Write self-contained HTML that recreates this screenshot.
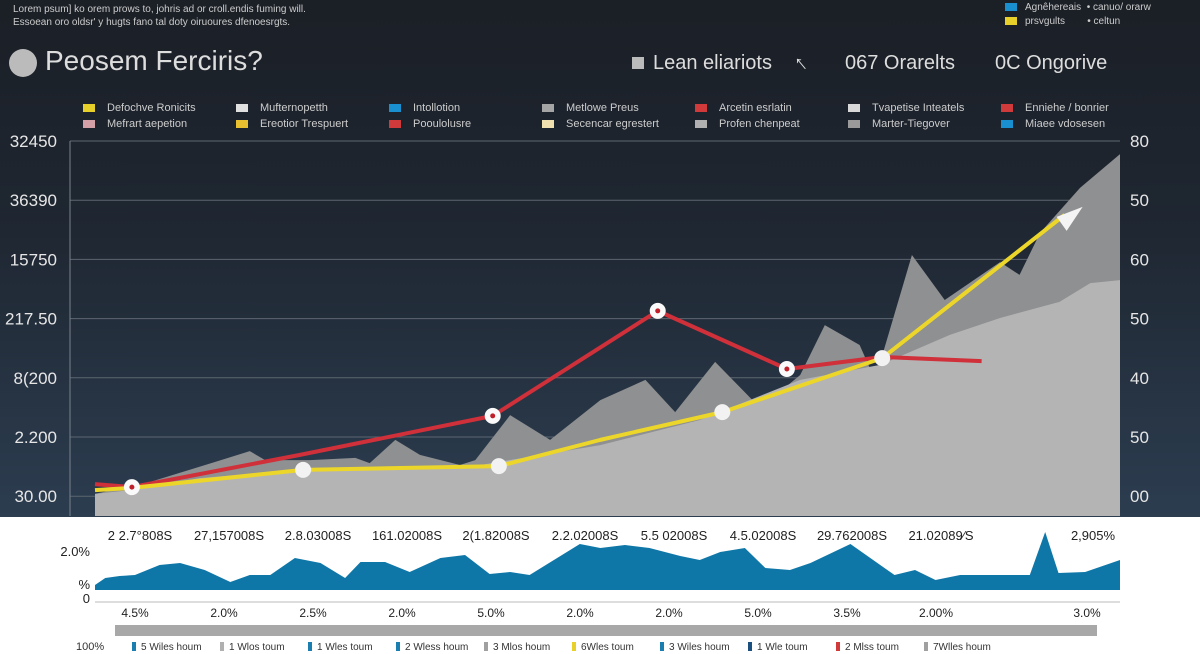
<!DOCTYPE html>
<html><head><meta charset="utf-8"><style>
body{margin:0;width:1200px;height:654px;overflow:hidden;background:#fff;font-family:"Liberation Sans",sans-serif}
#top{position:absolute;left:0;top:0;width:1200px;height:517px;background:linear-gradient(180deg,#1b1f26 0%,#1f2732 45%,#2c3d50 100%)}
.t{position:absolute;white-space:nowrap}
.lg{position:absolute;font-size:11px;color:#ccc;white-space:nowrap}
.lg i{display:inline-block;width:12px;height:8px;margin-right:12px;vertical-align:middle}
</style></head><body>
<div id="top"></div>
<div class="t" style="left:13px;top:3px;font-size:10px;color:#ccc;line-height:13px">Lorem psum] ko orem prows to, johris ad or croll.endis fuming will.<br>Essoean oro oldsr' y hugts fano tal doty oiruoures dfenoesrgts.</div>
<div class="t" style="left:9px;top:49px;width:28px;height:28px;border-radius:50%;background:#bbb"></div>
<div class="t" style="left:45px;top:45px;font-size:28px;color:#ddd">Peosem Ferciris?</div>
<div class="t" style="left:632px;top:52px;font-size:20px;color:#ddd"><span style="display:inline-block;width:12px;height:12px;background:#bbb;margin-right:9px"></span>Lean eliariots</div>
<div class="t" style="left:795px;top:50px;font-size:22px;color:#ddd;transform:rotate(-40deg)">↑</div>
<div class="t" style="left:845px;top:52px;font-size:20px;color:#ddd">067 Orarelts</div>
<div class="t" style="left:995px;top:52px;font-size:20px;color:#ddd">0C Ongorive</div>
<div class="lg" style="left:1005px;top:2px;font-size:10px"><i style="background:#1a8fd0;margin-right:8px"></i>Agnêhereais &nbsp;• canuo/ orarw</div>
<div class="lg" style="left:1005px;top:16px;font-size:10px"><i style="background:#e8d02a;margin-right:8px"></i>prsvgults &nbsp;&nbsp;&nbsp;&nbsp;&nbsp;&nbsp;&nbsp;• celtun</div>
<div id="legend"></div>
<svg id="ch" width="1200" height="654" style="position:absolute;left:0;top:0"></svg>
<script>
const ticksLeft=["32450","36390","15750","217.50","8(200","2.200","30.00"];
const ticksRight=["80","50","60","50","40","50","00"];
const backX=[0,5.4,11.7,15.1,16.6,21,25.4,26.8,29.3,31.7,35.6,37.1,40.5,44.4,49.3,53.7,56.6,60.5,64.9,68.8,71.2,74.6,76.1,79.7,82.9,88.3,90.2,92.2,96.1,100];
const backV=[5.9,9.1,14.4,17.3,14.9,14.9,15.5,14.1,20.3,16.3,13.6,14.9,26.9,20.3,30.9,36.3,27.7,41.1,28.8,37.6,50.9,45.6,36.3,69.6,57.6,67.7,64.3,75.5,87.5,96.5];
const frontX=[0,3.4,10.2,20,37.6,49.3,59,68.8,76.6,83.4,88.3,94.1,97.1,100];
const frontV=[5.9,6.9,10.1,12.3,13.6,18.9,25.6,36.3,40.3,48.3,52.8,57.1,62.1,62.9];
const redX=[0,3.6,20,38.8,54.9,67.5,76.8,86.5];
const redV=[8.5,7.7,16.3,26.7,54.7,39.2,42.4,41.3];
const redMarks=[1,3,4,5];
const yelX=[0,3.6,20.3,39.4,49.3,61.2,76.8,94.6];
const yelV=[6.9,7.5,12.3,13.3,20.3,27.7,42.1,80.3];
const yelMarks=[2,3,5,6];
const topLabels=["2 2.7°808S","27,157008S","2.8.03008S","161.02008S","2(1.82008S","2.2.02008S","5.5 02008S","4.5.02008S","29.762008S","21.02089⁄S","2,905%"];
const botLabels=["4.5%","2.0%","2.5%","2.0%","5.0%","2.0%","2.0%","5.0%","3.5%","2.00%","3.0%"];
const blueX=[0,1,2.4,3.9,6.3,8.3,10.7,13.2,15.1,17.1,19.5,22,24.4,25.9,28.3,30.7,33.7,36.1,38.5,40.5,42.4,47.3,49.3,51.7,54.1,57.1,59,61,63.4,65.4,67.8,69.8,73.7,78,80,82,84.4,86.3,91.2,92.7,94,96.6,100];
const blueV=[0.25,0.6,0.7,0.75,1.25,1.35,1.0,0.4,0.75,0.75,1.6,1.35,0.6,1.4,1.4,0.9,1.6,1.75,0.8,0.9,0.75,2.3,2.1,2.25,2.1,1.7,1.5,1.9,2.1,1.1,1.0,1.35,2.3,0.75,1.0,0.5,0.75,0.75,0.75,2.9,0.85,0.9,1.5];
const legendNames=["Defochve Ronicits","Mufternopetth","Intollotion","Metlowe Preus","Arcetin esrlatin","Tvapetise Inteatels","Enniehe / bonrier","Mefrart aepetion","Ereotior Trespuert","Pooulolusre","Secencar egrestert","Profen chenpeat","Marter-Tiegover","Miaee vdosesen"];
const legendColors=["#e8d02a","#e0e0e0","#1a8fd0","#a5a5a5","#d03a3a","#d8d8d8","#d03a3a","#d4a0a8","#e8c030","#d03a3a","#f0e0b0","#b0b0b0","#9a9a9a","#1a8fd0"];
const botLegend=["5 Wiles houm","1 Wlos toum","1 Wles toum","2 Wless houm","3 Mlos houm","6Wles toum","3 Wiles houm","1 Wle toum","2 Mlss toum","7Wlles houm"];
const botLegendColors=["#1a7fb0","#b0b0b0","#1a7fb0","#1a7fb0","#a0a0a0","#e8d02a","#1a7fb0","#1a4f80","#d03a3a","#a0a0a0"];

const NS="http://www.w3.org/2000/svg";
const svg=document.getElementById('ch');
const xS=v=>95+v*10.25;
const yS=v=>516-v*3.75;
const yB=v=>590-v*20;
function mk(t,a){const e=document.createElementNS(NS,t);for(const k in a)e.setAttribute(k,a[k]);svg.appendChild(e);return e;}
// grid
ticksLeft.forEach((t,i)=>{
  const y=141+i*59.2;
  const g=mk('line',{x1:70,x2:1120,y1:y,y2:y,stroke:'#5d6670','stroke-width':1});
  
  
  const l=mk('text',{x:57,y:y+6,fill:'#e6e6e6','font-size':17,'text-anchor':'end'});l.textContent=t;
  
  
  const r=mk('text',{x:1130,y:y+6,fill:'#e6e6e6','font-size':17});r.textContent=ticksRight[i];
  
  
});
const ax=mk('line',{x1:70,x2:70,y1:141,y2:516,stroke:'#7a828c'});


function areaPath(xs,vs,ys,base){let d='M'+xS(xs[0])+','+base;xs.forEach((x,i)=>d+=' L'+xS(x)+','+ys(vs[i]));d+=' L'+xS(xs[xs.length-1])+','+base+' Z';return d;}
const ba=mk('path',{d:areaPath(backX,backV,yS,516),fill:'#8f9091'});


const fa=mk('path',{d:areaPath(frontX,frontV,yS,516),fill:'#b4b4b4'});


function line(xs,vs,c){return xs.map((x,i)=>xS(x)+','+yS(vs[i])).join(' ');}
const rl=mk('polyline',{points:line(redX,redV),fill:'none',stroke:'#d0303a','stroke-width':4,'stroke-linejoin':'round'});


const yl=mk('polyline',{points:line(yelX,yelV),fill:'none',stroke:'#ecd62a','stroke-width':4,'stroke-linejoin':'round'});


{const n=yelX.length-1;const x=xS(yelX[n]),y=yS(yelV[n]);
const ar=mk('polygon',{points:(x-8)+','+(y+2)+' '+(x+18)+','+(y-8)+' '+(x+2)+','+(y+16),fill:'#f4f4f4'});

}
yelMarks.forEach(i=>{const c=mk('circle',{cx:xS(yelX[i]),cy:yS(yelV[i]),r:8,fill:'#f2f2f2'});

});
redMarks.forEach(i=>{const c=mk('circle',{cx:xS(redX[i]),cy:yS(redV[i]),r:8,fill:'#fafafa'});


mk('circle',{cx:xS(redX[i]),cy:yS(redV[i]),r:2.5,fill:'#c0202a'});});
// bottom
topLabels.forEach((t,i)=>{const x=i<10?140+i*89:1093;
const e=mk('text',{x:x,y:540,fill:'#222','font-size':13,'text-anchor':'middle'});e.textContent=t;

});
[["2.0%",556],["%",589],["0",603]].forEach(p=>{const e=mk('text',{x:90,y:p[1],fill:'#222','font-size':13,'text-anchor':'end'});e.textContent=p[0];

});
const bl=mk('path',{d:areaPath(blueX,blueV,yB,590),fill:'#0f77a8'});


const bx=mk('line',{x1:95,x2:1120,y1:602,y2:602,stroke:'#bbb'});


botLabels.forEach((t,i)=>{const e=mk('text',{x:i<10?135+i*89:1087,y:617,fill:'#222','font-size':12,'text-anchor':'middle'});e.textContent=t;

});
const sc=mk('rect',{x:115,y:625,width:982,height:11,fill:'#a8a8a8'});


const p100=mk('text',{x:76,y:650,fill:'#333','font-size':11});p100.textContent='100%';


botLegend.forEach((t,i)=>{const x=132+i*88;
mk('rect',{x:x,y:642,width:4,height:9,fill:botLegendColors[i]});
const e=mk('text',{x:x+9,y:650,fill:'#333','font-size':10});e.textContent=t;

});
// top legend
const lg=document.getElementById('legend');
legendNames.forEach((n,i)=>{const col=i%7,row=Math.floor(i/7);
const d=document.createElement('div');d.className='lg';
d.style.left=(83+col*153)+'px';d.style.top=(102+row*16)+'px';
d.innerHTML='<i style="background:'+legendColors[i]+'"></i>'+n;


lg.appendChild(d);});
</script>
</body></html>
